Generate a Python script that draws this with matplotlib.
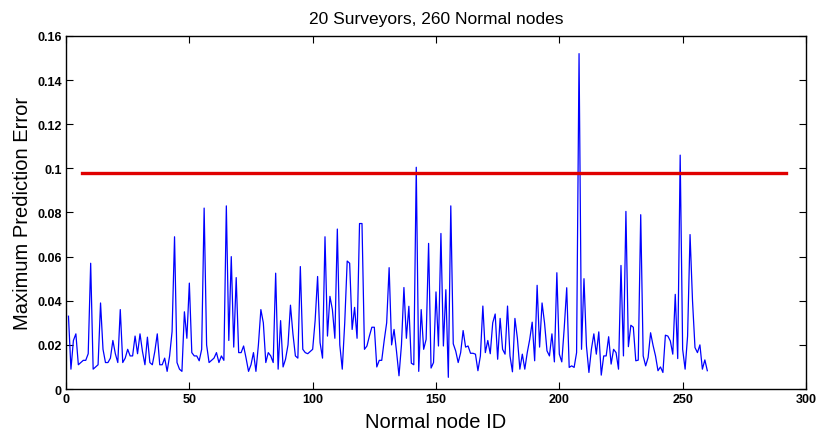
import numpy as np
import matplotlib
matplotlib.use("Agg")
import matplotlib.pyplot as plt

# maximum prediction error per normal node (node IDs 1..260)
max_error = [
    0.033, 0.009, 0.022, 0.025, 0.011, 0.012, 0.013, 0.013, 0.016, 0.057,
    0.009, 0.010, 0.011, 0.039, 0.018, 0.012, 0.012, 0.014, 0.022, 0.016,
    0.012, 0.036, 0.012, 0.014, 0.018, 0.015, 0.015, 0.024, 0.016, 0.025,
    0.017, 0.011, 0.0235, 0.012, 0.011, 0.017, 0.025, 0.011, 0.011, 0.014,
    0.008, 0.015, 0.026, 0.069, 0.012, 0.009, 0.008, 0.035, 0.023, 0.048,
    0.0165, 0.015, 0.015, 0.0128, 0.018, 0.082, 0.020, 0.012, 0.013, 0.014,
    0.0165, 0.012, 0.015, 0.013, 0.083, 0.022, 0.060, 0.019, 0.0505, 0.0165,
    0.0165, 0.0195, 0.014, 0.008, 0.011, 0.0165, 0.008, 0.020, 0.036, 0.030,
    0.012, 0.0165, 0.015, 0.012, 0.0525, 0.009, 0.031, 0.010, 0.0135, 0.020,
    0.038, 0.025, 0.015, 0.014, 0.0555, 0.018, 0.0165, 0.016, 0.017, 0.018,
    0.031, 0.051, 0.021, 0.014, 0.069, 0.024, 0.042, 0.036, 0.023, 0.0725,
    0.020, 0.009, 0.030, 0.058, 0.057, 0.027, 0.037, 0.023, 0.075, 0.075,
    0.018, 0.0195, 0.024, 0.028, 0.028, 0.010, 0.013, 0.013, 0.022, 0.030,
    0.055, 0.020, 0.027, 0.017, 0.006, 0.020, 0.046, 0.023, 0.0375, 0.0117,
    0.011, 0.1005, 0.008, 0.036, 0.018, 0.0225, 0.066, 0.0095, 0.012, 0.044,
    0.0195, 0.0705, 0.0195, 0.045, 0.0053, 0.083, 0.0205, 0.0172, 0.012, 0.0165,
    0.0265, 0.019, 0.0195, 0.0162, 0.0162, 0.0158, 0.0083, 0.015, 0.0376, 0.0165,
    0.022, 0.016, 0.030, 0.034, 0.0135, 0.032, 0.018, 0.0158, 0.0376, 0.015,
    0.0078, 0.032, 0.023, 0.009, 0.0158, 0.009, 0.0165, 0.0225, 0.0303, 0.0128,
    0.047, 0.019, 0.039, 0.030, 0.0173, 0.015, 0.025, 0.0123, 0.0527, 0.0158,
    0.0123, 0.0278, 0.0459, 0.0098, 0.0105, 0.0098, 0.0165, 0.152, 0.018, 0.050,
    0.0195, 0.0075, 0.018, 0.025, 0.0158, 0.0259, 0.0063, 0.015, 0.015, 0.0237,
    0.0113, 0.018, 0.0165, 0.009, 0.056, 0.015, 0.0805, 0.0192, 0.0289, 0.028,
    0.0128, 0.0131, 0.079, 0.015, 0.0105, 0.0143, 0.0255, 0.0198, 0.015, 0.0083,
    0.010, 0.0075, 0.0244, 0.024, 0.0218, 0.0158, 0.0429, 0.0138, 0.106, 0.018,
    0.009, 0.024, 0.070, 0.040, 0.0188, 0.0165, 0.020, 0.009, 0.0132, 0.0083,
]
node_id = np.arange(1, len(max_error) + 1)

threshold = 0.098
threshold_span = [6.5, 292]

x_ticks = [0, 50, 100, 150, 200, 250, 300]
y_ticks = [0, 0.02, 0.04, 0.06, 0.08, 0.1, 0.12, 0.14, 0.16]
y_tick_labels = ["0", "0.02", "0.04", "0.06", "0.08", "0.1", "0.12", "0.14", "0.16"]

plt.rcParams["font.family"] = ["Liberation Sans", "DejaVu Sans"]

fig = plt.figure(figsize=(8.21, 4.35), dpi=100)
ax = fig.add_axes([0.0804, 0.1034, 0.9013, 0.8116])

ax.plot(node_id, max_error, color="#0000ff", linewidth=0.9)
ax.plot(threshold_span, [threshold, threshold], color="#e00000", linewidth=2.4)

ax.set_xlim(0, 300)
ax.set_ylim(0, 0.16)
ax.set_xticks(x_ticks)
ax.set_xticklabels([str(t) for t in x_ticks], fontsize=9, fontweight="bold")
ax.set_yticks(y_ticks)
ax.set_yticklabels(y_tick_labels, fontsize=9, fontweight="bold")
ax.tick_params(direction="in", top=True, right=True, length=5, width=0.8, pad=3)

for s in ax.spines.values():
    s.set_linewidth(1.0)

ax.set_title("20 Surveyors, 260 Normal nodes", fontsize=12.5, pad=9)
ax.set_xlabel("Normal node ID", fontsize=14.5, labelpad=5)
ax.set_ylabel("Maximum Prediction Error", fontsize=14.5, labelpad=4)

fig.savefig("out.png", dpi=100)
plt.close(fig)
